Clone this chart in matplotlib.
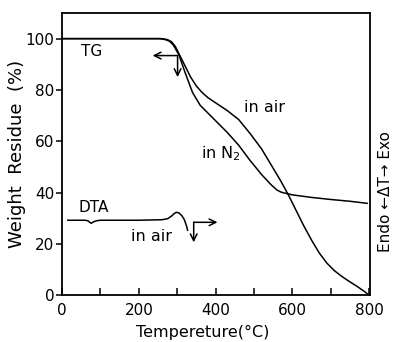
# plot.py — TG / DTA curves (weight residue vs temperature)
import matplotlib

matplotlib.use("Agg")
import matplotlib.pyplot as plt

# ---------------------------
# Data
# ---------------------------
T_AIR = [0, 260, 275, 285, 295, 305, 320, 335, 350, 365, 380, 400, 430,
         460, 490, 520, 550, 570, 590, 610, 630, 650, 670, 690, 710, 730,
         750, 770, 790, 800]
W_AIR = [100, 100, 99.6, 98.8, 97, 94, 89.5, 85, 81.5, 79, 77, 75, 72,
         68.5, 63, 57, 49.5, 44.5, 39, 33, 27, 21.5, 16.5, 12.5, 9.5, 7.2,
         5.2, 3.3, 1.2, 0]

T_N2 = [0, 255, 270, 280, 290, 305, 320, 340, 360, 380, 400, 430, 460,
        490, 520, 545, 560, 570, 580, 600, 650, 700, 750, 795]
W_N2 = [100, 100, 99.6, 99, 97.5, 93.5, 87, 79, 74, 71, 68, 63.5, 58.5,
        52.5, 47, 43, 41, 40.2, 39.8, 39.1, 38.1, 37.3, 36.6, 35.8]

T_DTA = [15, 60, 67, 72, 76, 82, 90, 100, 200, 260, 275, 285, 292, 298,
         305, 312, 318, 322, 325, 327]
S_DTA = [29.2, 29.2, 29.0, 28.4, 28.0, 28.6, 29.0, 29.2, 29.2, 29.4, 29.8,
         30.8, 31.8, 32.3, 32.0, 31.0, 29.6, 28.0, 26.6, 25.3]

X_TICKS = [0, 200, 400, 600, 800]
X_MINOR = [100, 300, 500, 700]
Y_TICKS = [0, 20, 40, 60, 80, 100]

ARROW = dict(arrowstyle="->", lw=1.1, color="black",
             shrinkA=0, shrinkB=0, mutation_scale=12)


def corner_arrows(ax, x, y, x_to, y_to):
    # two arrows from one corner: horizontal + vertical
    ax.annotate("", xy=(x_to, y), xytext=(x, y), arrowprops=ARROW)
    ax.annotate("", xy=(x, y_to), xytext=(x, y), arrowprops=ARROW)


def main() -> None:
    plt.rcParams["font.family"] = "DejaVu Sans"
    fig = plt.figure(figsize=(3.93, 3.42), dpi=100)
    ax = fig.add_axes([0.158, 0.137, 0.783, 0.825])

    kw = dict(color="black", lw=1.1)
    ax.plot(T_AIR, W_AIR, **kw)
    ax.plot(T_N2, W_N2, **kw)
    ax.plot(T_DTA, S_DTA, **kw)

    corner_arrows(ax, 301, 93.4, 236, 85)
    corner_arrows(ax, 343, 28.4, 405, 20.6)

    ax.text(49, 95, "TG", fontsize=11, va="center")
    ax.text(44, 34, "DTA", fontsize=11, va="center")
    ax.text(179, 23, "in air", fontsize=11.5, va="center")
    ax.text(473, 73, "in air", fontsize=11.5, va="center")
    ax.text(361, 55, "in N$_2$", fontsize=11.5, va="center")

    ax.set_xlim(0, 802)
    ax.set_ylim(0, 110)
    ax.set_xticks(X_TICKS)
    ax.set_xticks(X_MINOR, minor=True)
    ax.set_yticks(Y_TICKS)
    ax.tick_params(axis="x", which="both", direction="in", length=5,
                   width=1.1, labelsize=11, pad=6)
    ax.tick_params(axis="y", direction="out", length=4, width=1.1,
                   labelsize=11, pad=1.5)
    for s in ax.spines.values():
        s.set_linewidth(1.3)

    ax.set_xlabel("Tempereture(°C)", fontsize=11.5)
    ax.xaxis.set_label_coords(0.458, -0.105)
    ax.set_ylabel("Weight  Residue  (%)", fontsize=13)
    ax.yaxis.set_label_coords(-0.118, 0.5)
    fig.text(0.982, 0.44, "Endo \u2190\u0394T\u2192 Exo", rotation=90,
             fontsize=11, ha="center", va="center")

    fig.savefig("out.png", dpi=100)
    plt.close(fig)


if __name__ == "__main__":
    main()
